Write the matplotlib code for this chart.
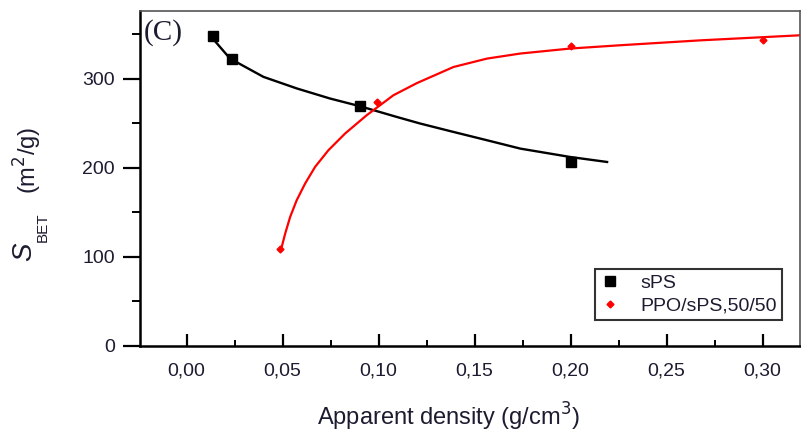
import matplotlib
matplotlib.use("Agg")
import matplotlib.pyplot as plt
from matplotlib.ticker import MultipleLocator, FuncFormatter

# measured points
sps_x = [0.0139, 0.0235, 0.0904, 0.2004]
sps_y = [348, 322, 269, 207]
ppo_x = [0.0487, 0.099, 0.2002, 0.300]
ppo_y = [109, 274, 337, 343]

# fitted curves
sps_fit_x = [0.0121, 0.0226, 0.040, 0.0574, 0.0747, 0.0904, 0.1095, 0.1217,
             0.139, 0.1564, 0.1738, 0.1998, 0.219]
sps_fit_y = [348.7, 322.5, 302, 289, 277.7, 269, 257, 249.6,
             240.2, 230.9, 221.5, 212.1, 206.5]
ppo_fit_x = [0.0495, 0.0513, 0.0539, 0.0573, 0.0617, 0.0669, 0.0738, 0.0825,
             0.0938, 0.1077, 0.1199, 0.139, 0.1564, 0.1738, 0.1998, 0.2259,
             0.2676, 0.3197]
ppo_fit_y = [111, 126, 144.8, 163.5, 182.3, 201, 219.6, 238.4,
             259, 281.4, 295, 313.1, 322.5, 328.2, 333.8, 337.5,
             343, 348.7]

plt.rcParams['font.family'] = ['Liberation Sans', 'DejaVu Sans']

TXT = '#1c1c30'
W, H = 801, 434

fig = plt.figure(figsize=(W / 100, H / 100), dpi=100)
ax = fig.add_axes([0.1748, 0.2028, 0.824, 0.772])

ax.plot(sps_fit_x, sps_fit_y, color='black', lw=1.7, zorder=2)
ax.plot(ppo_fit_x, ppo_fit_y, color='red', lw=1.6, zorder=2)
ax.plot(sps_x, sps_y, 's', color='black', ms=7.5, label='sPS', zorder=3)
ax.plot(ppo_x, ppo_y, 'D', color='red', ms=3.5, label='PPO/sPS,50/50', zorder=3)

ax.set_xlim(-0.0243, 0.3195)
ax.set_ylim(0, 376)

ax.xaxis.set_major_locator(MultipleLocator(0.05))
ax.xaxis.set_minor_locator(MultipleLocator(0.025))
ax.yaxis.set_major_locator(MultipleLocator(100))
ax.yaxis.set_minor_locator(MultipleLocator(50))
ax.xaxis.set_major_formatter(FuncFormatter(lambda v, p: f"{v:.2f}".replace('.', ',')))

ax.tick_params(axis='x', which='major', direction='in', length=9, width=1.6,
               pad=12, labelsize=14, labelcolor=TXT)
ax.tick_params(axis='x', which='minor', direction='in', length=4.5, width=1.4)
ax.tick_params(axis='y', which='major', direction='out', length=12, width=1.6,
               pad=6, labelsize=14, labelcolor=TXT)
ax.tick_params(axis='y', which='minor', direction='out', length=6, width=1.4)
ax.tick_params(top=False, right=False, which='both')

for s in ['left', 'bottom']:
    ax.spines[s].set_linewidth(1.8)
for s in ['top', 'right']:
    ax.spines[s].set_linewidth(1.2)
    ax.spines[s].set_color('#555555')

ax.set_xlabel('Apparent density (g/cm$^3$)', fontsize=17, color=TXT)
ax.xaxis.label.set_va('center')
ax.xaxis.set_label_coords(0.468, -0.212)

# y label built from pieces so the italic S can be larger
fig.text(24 / W, 1 - 252 / H, 'S', rotation=90, fontsize=20, style='italic',
         color=TXT, ha='center', va='center')
fig.text(43 / W, 1 - 227 / H, 'BET', rotation=90, fontsize=11,
         color=TXT, ha='center', va='center')
fig.text(28 / W, 1 - 160 / H, '(m$^2$/g)', rotation=90, fontsize=17,
         color=TXT, ha='center', va='center')

ax.text(0.005, 0.935, '(C)', transform=ax.transAxes, fontsize=21,
        family='Liberation Serif', color=TXT, va='center')

leg = ax.legend(loc='lower right', bbox_to_anchor=(0.973, 0.078), fontsize=14,
                frameon=True, fancybox=False, handlelength=1.0,
                borderpad=0.25, labelspacing=0.3, handletextpad=1.1,
                borderaxespad=0.0)
leg.get_frame().set_edgecolor('black')
leg.get_frame().set_linewidth(1.5)
for t in leg.get_texts():
    t.set_color(TXT)

fig.savefig('out.png', dpi=100)
